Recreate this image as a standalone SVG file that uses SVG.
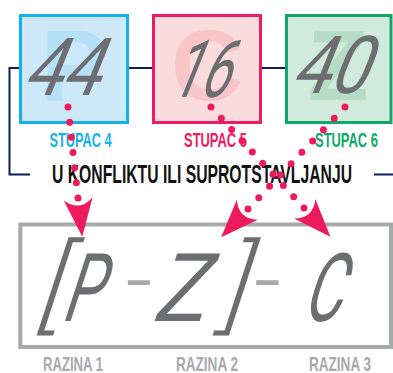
<svg xmlns="http://www.w3.org/2000/svg" width="393" height="373" viewBox="0 0 393 373">
  <style>
    .frame{stroke-width:3}
    .wm{font-family:"Liberation Sans",Arial,sans-serif;font-weight:bold;font-size:100px;text-anchor:middle}
    .num{font-family:Roboto,"DejaVu Sans",sans-serif;font-weight:400;font-size:80px;fill:#6d6e71;text-anchor:middle}
    .lbl{font-family:"Liberation Sans",Arial,sans-serif;font-weight:bold;font-size:20px}
    .title{font-family:"Liberation Sans",Arial,sans-serif;font-weight:bold;font-size:26px;fill:#111111}
    .hand{font-family:Roboto,"DejaVu Sans",sans-serif;font-weight:400;fill:#6d6e71;text-anchor:middle}
    .br{font-weight:300}
    .dash{font-family:Roboto,"DejaVu Sans",sans-serif;font-weight:300;font-size:95px;fill:#a7a9ac;text-anchor:middle}
    .raz{fill:#a7a9ac}
    .navy{fill:none;stroke:#0b1d5a;stroke-width:2}
    .dots{fill:none;stroke:#ee1a5e;stroke-width:7;stroke-linecap:round}
  </style>
  <defs>
    <marker id="head" markerUnits="userSpaceOnUse" markerWidth="50" markerHeight="40" viewBox="-5 -20 50 40" refX="0" refY="0" orient="auto" overflow="visible">
      <path d="M0,-14.5 Q13,0 0,14.5 L38,0 Z" fill="#ee1a5e"/>
    </marker>
  </defs>

  <g id="frame-line">
    <path class="navy" d="M30,174.5 H9.5 V68 H390"/>
    <path class="navy" d="M374,174.5 H393"/>
  </g>

  <g id="stupac4">
    <rect class="frame" x="20.5" y="15.5" width="107" height="107" fill="#cde9f9" stroke="#15b1ea"/>
    <text class="wm" x="74" y="100" fill="#b6e0f6">P</text>
    <text class="num" x="59" y="95" textLength="76" lengthAdjust="spacingAndGlyphs" transform="translate(0,95) skewX(-22) translate(0,-95)">44</text>
    <text class="lbl" x="49.5" y="147" fill="#15b1ea" textLength="62" lengthAdjust="spacingAndGlyphs">STUPAC 4</text>
  </g>

  <g id="stupac5">
    <rect class="frame" x="153.5" y="15.5" width="107" height="107" fill="#fbdcdd" stroke="#ee1c62"/>
    <text class="wm" x="207" y="100" fill="#f8c6c9">C</text>
    <text class="num" x="197" y="97" textLength="58" lengthAdjust="spacingAndGlyphs" transform="translate(0,97) skewX(-22) translate(0,-97)">16</text>
    <text class="lbl" x="184" y="147" fill="#ee1c62" textLength="63" lengthAdjust="spacingAndGlyphs">STUPAC 5</text>
  </g>

  <g id="stupac6">
    <rect class="frame" x="286.5" y="15.5" width="104.5" height="107" fill="#d0eadb" stroke="#0ea86b"/>
    <text class="wm" x="338" y="100" fill="#b7dcc6">Z</text>
    <text class="num" x="327" y="93" textLength="76" lengthAdjust="spacingAndGlyphs" transform="translate(0,93) skewX(-22) translate(0,-93)">40</text>
    <text class="lbl" x="315" y="147" fill="#0ea86b" textLength="63" lengthAdjust="spacingAndGlyphs">STUPAC 6</text>
  </g>

  <g id="title">
    <text class="title" x="52" y="183" textLength="300" lengthAdjust="spacingAndGlyphs">U KONFLIKTU ILI SUPROTSTAVLJANJU</text>
  </g>

  <g id="razine">
    <rect x="20.3" y="224.5" width="370.7" height="122.5" fill="none" stroke="#a7a9ac" stroke-width="4"/>
    <g transform="translate(0,321) skewX(-18) translate(0,-321)">
      <text class="hand br" x="45.5" y="320" font-size="102">[</text>
      <text class="hand" x="79" y="321" font-size="95" textLength="38" lengthAdjust="spacingAndGlyphs">P</text>
      <text class="hand" x="177" y="321" font-size="95" textLength="52" lengthAdjust="spacingAndGlyphs">Z</text>
      <text class="hand br" x="229.5" y="320" font-size="102">]</text>
      <text class="hand" x="320" y="321" font-size="95" textLength="38" lengthAdjust="spacingAndGlyphs">C</text>
    </g>
    <text class="dash" x="139" y="312">-</text>
    <text class="dash" x="267.5" y="312">-</text>
    <text class="lbl raz" x="43" y="371" textLength="60" lengthAdjust="spacingAndGlyphs">RAZINA 1</text>
    <text class="lbl raz" x="176" y="371" textLength="62" lengthAdjust="spacingAndGlyphs">RAZINA 2</text>
    <text class="lbl raz" x="309" y="371" textLength="62" lengthAdjust="spacingAndGlyphs">RAZINA 3</text>
  </g>

  <g id="connectors">
    <path class="dots" d="M68,107 L78.11,198.99" stroke-dasharray="0 15.26" marker-end="url(#head)"/>
    <path class="dots" d="M211,107 L304.68,208.74" stroke-dasharray="0 15.26" marker-end="url(#head)"/>
    <path class="dots" d="M345,107 L247.31,209.72" stroke-dasharray="0 15.64" marker-end="url(#head)"/>
  </g>
</svg>
